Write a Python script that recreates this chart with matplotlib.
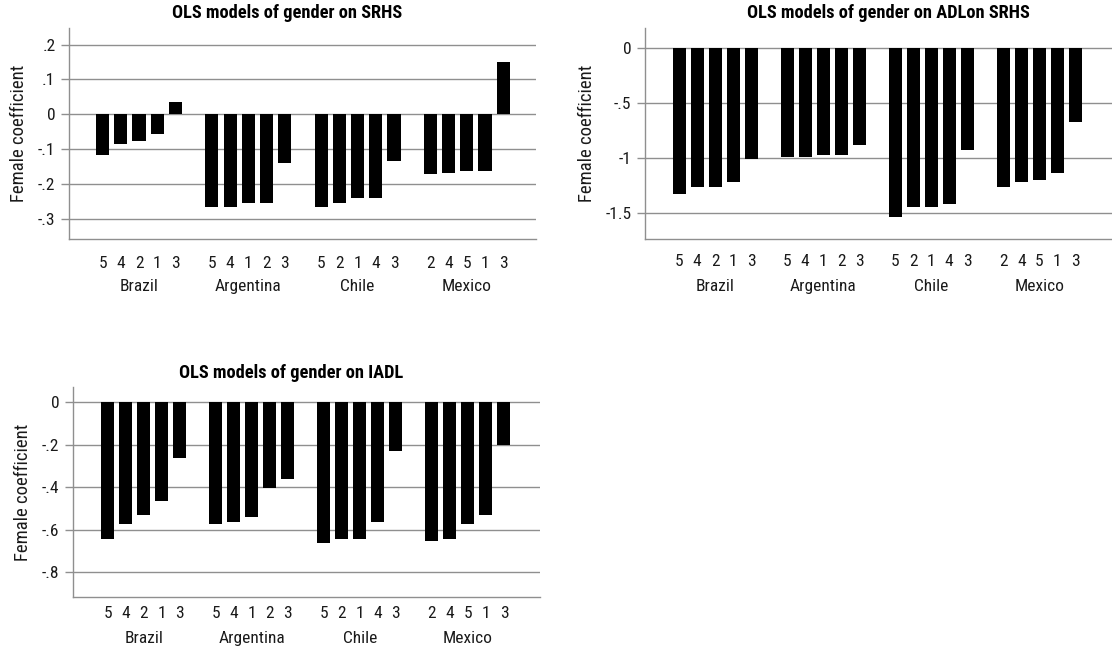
import matplotlib
matplotlib.use("Agg")
import matplotlib.pyplot as plt
from matplotlib import font_manager
from matplotlib.font_manager import FontProperties

# ---------------- data ----------------
countries = ["Brazil", "Argentina", "Chile", "Mexico"]

srhs_models = [[5, 4, 2, 1, 3], [5, 4, 1, 2, 3], [5, 2, 1, 4, 3], [2, 4, 5, 1, 3]]
srhs_values = [[-0.117, -0.086, -0.077, -0.057, 0.036],
               [-0.267, -0.267, -0.256, -0.256, -0.140],
               [-0.267, -0.256, -0.241, -0.241, -0.135],
               [-0.172, -0.169, -0.163, -0.163, 0.151]]
srhs_ticks = [0.2, 0.1, 0.0, -0.1, -0.2, -0.3]
srhs_ticklabels = [".2", ".1", "0", "-.1", "-.2", "-.3"]

adl_models = [[5, 4, 2, 1, 3], [5, 4, 1, 2, 3], [5, 2, 1, 4, 3], [2, 4, 5, 1, 3]]
adl_values = [[-1.326, -1.263, -1.263, -1.218, -1.002],
              [-0.984, -0.984, -0.966, -0.966, -0.876],
              [-1.533, -1.443, -1.443, -1.416, -0.921],
              [-1.263, -1.218, -1.200, -1.137, -0.669]]
adl_ticks = [0.0, -0.5, -1.0, -1.5]
adl_ticklabels = ["0", "-.5", "-1", "-1.5"]

iadl_models = [[5, 4, 2, 1, 3], [5, 4, 1, 2, 3], [5, 2, 1, 4, 3], [2, 4, 5, 1, 3]]
iadl_values = [[-0.642, -0.573, -0.530, -0.463, -0.262],
               [-0.573, -0.563, -0.540, -0.406, -0.361],
               [-0.662, -0.642, -0.642, -0.563, -0.230],
               [-0.652, -0.642, -0.573, -0.530, -0.203]]
iadl_ticks = [0.0, -0.2, -0.4, -0.6, -0.8]
iadl_ticklabels = ["0", "-.2", "-.4", "-.6", "-.8"]

titles = ["OLS models of gender on SRHS", "OLS models of gender on ADLon SRHS",
          "OLS models of gender on IADL"]
ylabel = "Female coefficient"

# ---------------- font selection (prefer a condensed face) ----------------
FAMILY, STRETCH = "Liberation Sans", "normal"
found = False
cands = [("Roboto Condensed", "normal"), ("Liberation Sans Narrow", "normal"),
         ("Open Sans Condensed", "normal"), ("Noto Sans", "condensed"),
         ("Noto Sans", "semi-condensed"), ("DejaVu Sans", "condensed"),
         ("Open Sans", "condensed"), ("Roboto", "condensed")]
for name, st in cands:
    try:
        p = font_manager.findfont(FontProperties(family=name, stretch=st),
                                  fallback_to_default=False)
    except Exception:
        continue
    low = p.lower()
    if "condensed" in low or "narrow" in low:
        FAMILY, STRETCH = name, st
        found = True
        break

plt.rcParams["font.family"] = [FAMILY, "DejaVu Sans"]
plt.rcParams["font.stretch"] = STRETCH
FS = 12.5 if found else 10.5
LFS = 13.5 if found else 11
TFS = 13.2 if found else 10.5
GRID = "#8f8f8f"
TXT = "#1a1a1a"

W, H = 1112, 649
fig = plt.figure(figsize=(W / 100, H / 100), dpi=100)


def add_ax(left, right, top, bottom):
    return fig.add_axes([left / W, (H - bottom) / H, (right - left) / W, (bottom - top) / H])


def draw(ax, models, values, ticks, ticklabels, ylim, xlim, title, title_xy,
         num_off, ctry_off):
    xs, hs, labs = [], [], []
    for g, (mods, vals) in enumerate(zip(models, values)):
        for i, (m, v) in enumerate(zip(mods, vals)):
            xs.append(g * 6 + i)
            hs.append(v)
            labs.append(str(m))
    ax.bar(xs, hs, width=0.72, color="black", zorder=3)
    ax.set_xlim(*xlim)
    ax.set_ylim(*ylim)
    ax.set_yticks(ticks)
    ax.set_yticklabels(ticklabels, fontsize=FS)
    ax.yaxis.grid(True, color=GRID, linewidth=1.0, zorder=0)
    ax.set_axisbelow(True)
    ax.tick_params(axis="y", length=6, width=1.0, color=GRID, pad=4,
                   labelcolor=TXT)
    ax.set_xticks([])
    for s in ["top", "right"]:
        ax.spines[s].set_visible(False)
    for s in ["left", "bottom"]:
        ax.spines[s].set_color(GRID)
        ax.spines[s].set_linewidth(1.0)
    for x, l in zip(xs, labs):
        ax.annotate(l, xy=(x, 0), xycoords=("data", "axes fraction"),
                    xytext=(0, -num_off * 0.72), textcoords="offset points",
                    ha="center", va="center", fontsize=FS, color=TXT)
    for g, c in enumerate(countries):
        ax.annotate(c, xy=(g * 6 + 2, 0), xycoords=("data", "axes fraction"),
                    xytext=(0, -ctry_off * 0.72), textcoords="offset points",
                    ha="center", va="center", fontsize=FS, color=TXT)
    ax.set_ylabel(ylabel, fontsize=LFS, labelpad=7, color=TXT)
    fig.text(title_xy[0] / W, 1 - title_xy[1] / H, title, ha="center", va="center",
             fontsize=TFS, fontweight="bold", color="black")


ax1 = add_ax(69.3, 536, 28.3, 239.3)
draw(ax1, srhs_models, srhs_values, srhs_ticks, srhs_ticklabels,
     (-0.359, 0.247), (-1.83, 23.8), titles[0], (287, 13), 24, 47)

ax2 = add_ax(645.3, 1112, 28.3, 239.3)
draw(ax2, adl_models, adl_values, adl_ticks, adl_ticklabels,
     (-1.736, 0.182), (-1.88, 24.04), titles[1], (888, 13), 22, 47)

ax3 = add_ax(73.3, 540, 387.3, 597.3)
draw(ax3, iadl_models, iadl_values, iadl_ticks, iadl_ticklabels,
     (-0.917, 0.069), (-1.91, 24.0), titles[2], (291, 373), 16, 41)

fig.savefig("out.png", dpi=100)
